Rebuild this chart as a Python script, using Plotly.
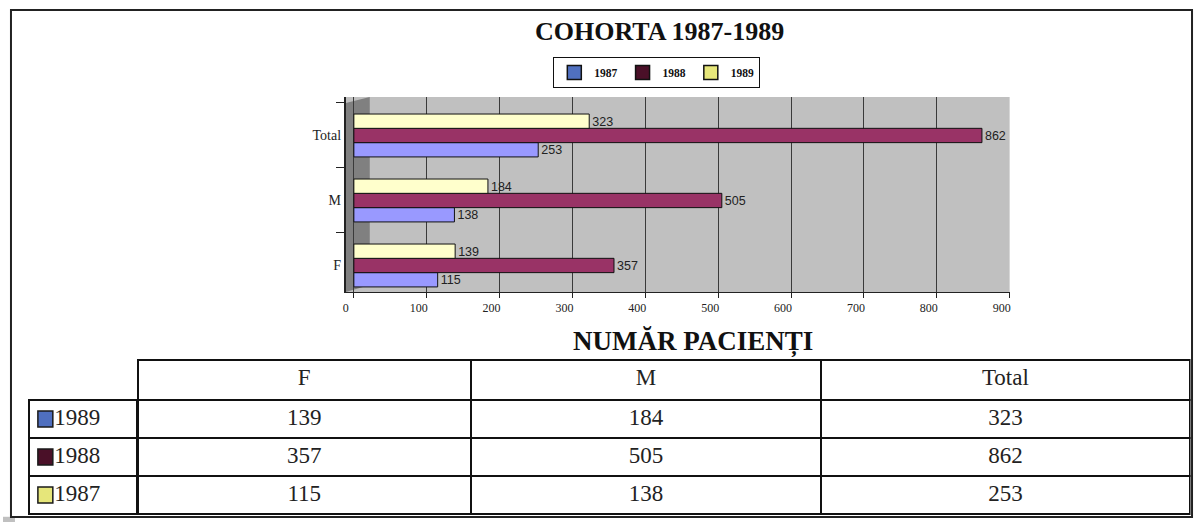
import plotly.graph_objects as go

# ---------------- data ----------------
categories = ["F", "M", "Total"]
series_names = ["1987", "1988", "1989"]
values_1987 = [115, 138, 253]
values_1988 = [357, 505, 862]
values_1989 = [139, 184, 323]
x_tick_values = [0, 100, 200, 300, 400, 500, 600, 700, 800, 900]

table_columns = ["F", "M", "Total"]
table_row_labels = ["1989", "1988", "1987"]
table_row_1989 = [139, 184, 323]
table_row_1988 = [357, 505, 862]
table_row_1987 = [115, 138, 253]

# ---------------- styles ----------------
W, H = 1200, 522
def px(x):
    return x / W
def py(y):
    return 1 - y / H

bar_colors = ["#9999FF", "#993366", "#FFFFCC"]
legend_colors = ["#5070C0", "#4A1028", "#E6E67A"]
table_swatch = ["#4F6FBF", "#4A1028", "#E6E67A"]
SERIF = "Liberation Serif"
SANS = "Liberation Sans"
NB = "\u00a0"
TFONT = 23

fig = go.Figure()

series_values = [values_1987, values_1988, values_1989]
for name, vals, col in zip(series_names, series_values, bar_colors):
    fig.add_trace(go.Bar(
        orientation="h", y=categories, x=vals, name=name,
        marker=dict(color=col, line=dict(color="#111111", width=1)),
        text=vals, textposition="outside",
        textfont=dict(family=SANS, size=14, color="#222222"),
        cliponaxis=False, showlegend=False,
    ))

# legend-only entries (legend swatches use darker colours in the original)
for name, col in zip(series_names, legend_colors):
    fig.add_trace(go.Scatter(
        x=[None], y=[None], mode="markers", name=name,
        marker=dict(symbol="square", size=14, color=col,
                    line=dict(color="#111111", width=1.5)),
        xaxis="x2", yaxis="y2",
    ))

# table: numbers
table_rows = [table_row_1989, table_row_1988, table_row_1987]
fig.add_trace(go.Table(
    domain=dict(x=[px(135), px(1191)], y=[py(516), py(360)]),
    columnwidth=[334, 351, 369],
    header=dict(values=table_columns, height=40,
                fill_color="white", line=dict(color="#111111", width=2),
                font=dict(family=SERIF, size=TFONT, color="#222222"),
                align="center"),
    cells=dict(values=[[r[i] for r in table_rows] for i in range(len(table_columns))],
               height=38, fill_color="white",
               line=dict(color="#111111", width=2),
               font=dict(family=SERIF, size=TFONT, color="#222222"),
               align="center"),
))

# table: row labels (first label sits in the header row of this small table)
row_label_text = [NB * 3 + lab for lab in table_row_labels]
fig.add_trace(go.Table(
    domain=dict(x=[px(26), px(135)], y=[py(516), py(400)]),
    header=dict(values=[row_label_text[0]], height=38,
                fill_color="white", line=dict(color="#111111", width=2),
                font=dict(family=SERIF, size=TFONT, color="#222222"),
                align="left"),
    cells=dict(values=[row_label_text[1:]], height=38, fill_color="white",
               line=dict(color="#111111", width=2),
               font=dict(family=SERIF, size=TFONT, color="#222222"),
               align="left"),
))

shapes = [
    # outer frame
    dict(type="rect", xref="paper", yref="paper",
         x0=px(8), x1=px(1193), y0=py(517), y1=py(10),
         line=dict(color="#222222", width=2), fillcolor="rgba(0,0,0,0)"),
    # left side wall of the 3-D plot area
    dict(type="path", xref="paper", yref="paper", layer="between",
         path=f"M {px(344)},{py(103)} L {px(368)},{py(97)} L {px(368)},{py(285)} L {px(344)},{py(292)} Z",
         fillcolor="#808080", line=dict(width=0)),
]
# colour swatches in the table's label column
for i, c in enumerate(table_swatch):
    yc = 419 + 38 * i
    shapes.append(dict(type="rect", xref="paper", yref="paper", layer="above",
                       x0=px(35), x1=px(50), y0=py(yc + 8), y1=py(yc - 8),
                       fillcolor=c, line=dict(color="#1a1a1a", width=1.5)))

fig.update_layout(
    width=W, height=H,
    margin=dict(l=0, r=0, t=0, b=0),
    paper_bgcolor="white",
    plot_bgcolor="#C0C0C0",
    barmode="group",
    bargap=0.34,
    bargroupgap=0,
    xaxis=dict(domain=[px(344), px(1010)], range=[-11, 900],
               tickvals=x_tick_values, showgrid=True, gridcolor="#3a3a3a",
               gridwidth=1, zeroline=False, showline=True, linecolor="#222222",
               ticks="outside", ticklen=5, tickcolor="#222222",
               ticklabelshift=-8,
               tickfont=dict(family=SERIF, size=12, color="#222222"),
               fixedrange=True),
    yaxis=dict(domain=[py(292), py(97)], range=[-0.408, 2.592],
               showgrid=False, showline=True,
               linecolor="#222222", linewidth=2, ticks="outside", ticklen=8,
               tickson="boundaries", tickcolor="#222222",
               tickfont=dict(family=SERIF, size=14, color="#222222"),
               fixedrange=True),
    xaxis2=dict(visible=False, domain=[0, 0.01], anchor="y2"),
    yaxis2=dict(visible=False, domain=[0, 0.01], anchor="x2"),
    showlegend=True,
    legend=dict(orientation="h", x=px(656), xanchor="center",
                y=py(57), yanchor="top", bgcolor="white",
                bordercolor="#111111", borderwidth=1,
                font=dict(family=SERIF, size=11.5, color="#111111", weight="bold"),
                itemwidth=30, tracegroupgap=0),
    annotations=[
        dict(text="<b>COHORTA 1987-1989</b>", x=px(659), y=py(31),
             xref="paper", yref="paper", showarrow=False,
             xanchor="center", yanchor="middle",
             font=dict(family=SERIF, size=26, color="#111111")),
        dict(text="<b>NUMĂR PACIENȚI</b>", x=px(692), y=py(342),
             xref="paper", yref="paper", showarrow=False,
             xanchor="center", yanchor="middle",
             font=dict(family=SERIF, size=27, color="#111111")),
    ],
    shapes=shapes,
)

fig.write_html("out.html",
               config={"displayModeBar": False},
               post_script="document.body.style.margin='0';document.body.style.padding='0';document.body.style.overflow='hidden';")
